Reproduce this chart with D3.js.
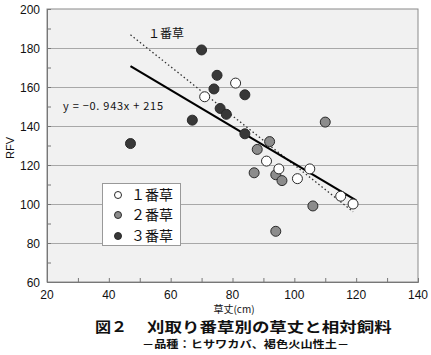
<!DOCTYPE html>
<html><head><meta charset="utf-8">
<script src="https://cdn.jsdelivr.net/npm/d3@7"></script>
<style>
html,body{margin:0;padding:0;background:#fff;}
svg text{font-family:"Noto Sans CJK JP","Liberation Sans",sans-serif;fill:#111;}
svg text.num{font-family:"Liberation Sans",Arial,sans-serif;}
</style></head>
<body><svg id="c" width="431" height="355"></svg>
<script>
// ---- data ----
const series1X = [71, 81, 91, 95, 101, 105, 115, 119];
const series1Y = [155, 162, 122, 118, 113, 118, 104, 100];
const series2X = [92, 88, 87, 94, 96, 106, 94, 110];
const series2Y = [132, 128, 116, 115, 112, 99, 86, 142];
const series3X = [47, 70, 67, 75, 74, 84, 76, 78, 84];
const series3Y = [131, 179, 143, 166, 159, 156, 149, 146, 136];
const seriesNames = ["１番草", "２番草", "３番草"];
const xTicks = [20, 40, 60, 80, 100, 120, 140];
const yTicks = [60, 80, 100, 120, 140, 160, 180, 200];
const fitAll = {slope: -0.943, intercept: 215, x0: 47, x1: 120};
const fit1 = {slope: -1.26, intercept: 246, x0: 47, x1: 119};
const eqLabel = "y = −0. 943x + 215";
const fit1Label = "１番草";
const xTitle = "草丈(cm)";
const yTitle = "RFV";
const titleHead = "図２";
const title = "刈取り番草別の草丈と相対飼料";
const subtitle = "－品種：ヒサワカバ、褐色火山性土－";

const svg = d3.select("#c");
const L = 47, R = 418, T = 9, B = 282;
const x = d3.scaleLinear().domain([20, 140]).range([L, R]);
const y = d3.scaleLinear().domain([60, 200]).range([B, T]);

// plot background
svg.append("rect").attr("x", L).attr("y", T).attr("width", R - L).attr("height", B - T)
  .attr("fill", "#f1f1f1").attr("stroke", "#8a8a8a").attr("stroke-width", 1);

// gridlines
svg.append("g").selectAll("line").data(yTicks.filter(d => d > 60 && d < 200)).join("line")
  .attr("x1", L).attr("x2", R).attr("y1", d => y(d) + 0.5).attr("y2", d => y(d) + 0.5)
  .attr("stroke", "#a8a8a8").attr("stroke-width", 1);

// axes
const xAxis = svg.append("g").attr("transform", `translate(0,${B})`)
  .call(d3.axisBottom(x).tickValues(d3.range(20, 141, 10)).tickSize(-4).tickFormat(""));
xAxis.select(".domain").attr("stroke", "#777");
xAxis.selectAll(".tick line").attr("stroke", "#777");
svg.append("g").selectAll("text").data(xTicks).join("text").attr("class", "num")
  .attr("x", d => x(d)).attr("y", 298.5).attr("text-anchor", "middle")
  .attr("font-size", 12).text(d => d);

const yAxis = svg.append("g").attr("transform", `translate(${L},0)`)
  .call(d3.axisLeft(y).tickValues(d3.range(60, 201, 10)).tickSize(-4).tickFormat(""));
yAxis.select(".domain").attr("stroke", "#777");
yAxis.selectAll(".tick line").attr("stroke", "#777");
svg.append("g").selectAll("text").data(yTicks).join("text").attr("class", "num")
  .attr("x", 40).attr("y", d => y(d) + 4.5).attr("text-anchor", "end")
  .attr("font-size", 12).text(d => d);

svg.append("text").attr("class", "num").attr("transform", "translate(14,148) rotate(-90)")
  .attr("text-anchor", "middle").attr("font-size", 11).text(yTitle);
svg.append("text").attr("x", 234).attr("y", 312.5).attr("text-anchor", "middle")
  .attr("font-size", 10).text(xTitle);

// fit lines
svg.append("line")
  .attr("x1", x(fit1.x0)).attr("y1", y(fit1.slope * fit1.x0 + fit1.intercept))
  .attr("x2", x(fit1.x1)).attr("y2", y(fit1.slope * fit1.x1 + fit1.intercept))
  .attr("stroke", "#333").attr("stroke-width", 1.3).attr("stroke-dasharray", "1.5,2.5");
svg.append("line")
  .attr("x1", x(fitAll.x0)).attr("y1", y(fitAll.slope * fitAll.x0 + fitAll.intercept))
  .attr("x2", x(fitAll.x1)).attr("y2", y(fitAll.slope * fitAll.x1 + fitAll.intercept))
  .attr("stroke", "#000").attr("stroke-width", 2.2);

// points
const fills = ["#ffffff", "#8c8c8c", "#383838"];
const sets = [[series1X, series1Y], [series2X, series2Y], [series3X, series3Y]];
const order = [2, 1, 0];
order.forEach(i => {
  const pts = sets[i][0].map((v, k) => [v, sets[i][1][k]]);
  svg.append("g").selectAll("circle").data(pts).join("circle")
    .attr("cx", d => x(d[0])).attr("cy", d => y(d[1])).attr("r", 5)
    .attr("fill", fills[i]).attr("stroke", "#2a2a2a").attr("stroke-width", 1);
});

// annotations
svg.append("text").attr("x", 148).attr("y", 38).attr("font-size", 12).text(fit1Label);
svg.append("text").attr("x", 63).attr("y", 110).attr("font-size", 11)
  .attr("textLength", 100).attr("lengthAdjust", "spacing").text(eqLabel);

// legend
const lg = svg.append("g");
lg.append("rect").attr("x", 102.5).attr("y", 183.5).attr("width", 78).attr("height", 62)
  .attr("fill", "#fff").attr("stroke", "#999");
const ly = [195, 215, 236];
seriesNames.forEach((n, i) => {
  lg.append("circle").attr("cx", 118).attr("cy", ly[i]).attr("r", 3.5)
    .attr("fill", fills[i]).attr("stroke", "#2a2a2a").attr("stroke-width", 1);
  lg.append("text").attr("x", 131).attr("y", ly[i] + 5).attr("font-size", 14).text(n);
});

// titles (horizontally stretched like the original)
svg.append("text").attr("transform", "translate(95,332) scale(1.15,1)")
  .attr("font-size", 14).attr("font-weight", "bold").text(titleHead);
svg.append("text").attr("transform", "translate(147,332) scale(1.25,1)")
  .attr("font-size", 14).attr("font-weight", "bold").text(title);
svg.append("text").attr("transform", "translate(142,348) scale(1.22,1)")
  .attr("font-size", 10).attr("font-weight", "bold").text(subtitle);
</script></body></html>
